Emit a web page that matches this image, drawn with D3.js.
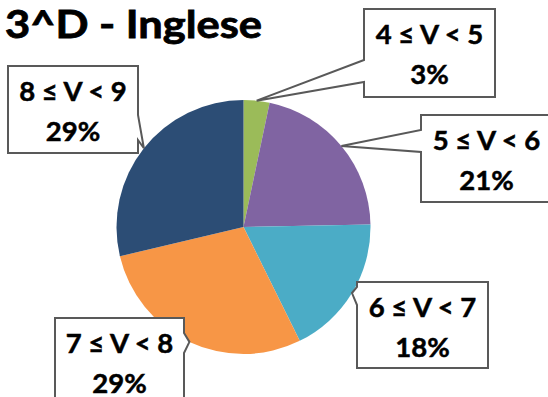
<!DOCTYPE html>
<html>
<head>
<meta charset="utf-8">
<script src="https://cdn.jsdelivr.net/npm/d3@7"></script>
<style>
  html, body { margin: 0; padding: 0; background: #fff; }
  svg { display: block; }
</style>
</head>
<body>
<svg id="chart" width="548" height="397"></svg>
<script>
// ---- data ----
const title = "3^D - Inglese";
const categories = ["4 ≤ V < 5", "5 ≤ V < 6", "6 ≤ V < 7", "7 ≤ V < 8", "8 ≤ V < 9"];
const values = [3.3, 21.4, 18.0, 28.6, 28.7];
const percentLabels = ["3%", "21%", "18%", "29%", "29%"];
const colors = ["#9BBB59", "#8064A2", "#4BACC6", "#F79646", "#2C4D75"];

// ---- layout (callout boxes: x, y, w, h, side of pointer, attach offsets) ----
const boxes = [
  { x: 364, y: 9,   w: 131, h: 88, side: "left",  a1: 51, a2: 73 },
  { x: 421, y: 115, w: 131, h: 87, side: "left",  a1: 15, a2: 37 },
  { x: 357, y: 282, w: 131, h: 86, side: "left",  a1: 5,  a2: 23 },
  { x: 55,  y: 318, w: 129, h: 88, side: "right", a1: 15, a2: 35 },
  { x: 8,   y: 66,  w: 130, h: 87, side: "right", a1: 49, a2: 74 }
];

const svg = d3.select("#chart");
const cx = 243.5, cy = 227, r = 127;

const pie = d3.pie().sort(null).value(d => d)(values);
const arc = d3.arc().innerRadius(0).outerRadius(r);

const g = svg.append("g").attr("transform", `translate(${cx},${cy})`);
g.selectAll("path.slice").data(pie).enter().append("path")
  .attr("class", "slice")
  .attr("d", arc)
  .attr("fill", (d, i) => colors[i]);

// title
svg.append("text")
  .attr("x", 5).attr("y", 38)
  .attr("font-family", "Lato, 'Open Sans', sans-serif")
  .attr("font-weight", "bold")
  .attr("font-size", 38)
  .attr("textLength", 257)
  .attr("lengthAdjust", "spacingAndGlyphs")
  .attr("fill", "#000")
  .attr("stroke", "#000")
  .attr("stroke-width", 0.8)
  .text(title);

// callouts
pie.forEach((d, i) => {
  const b = boxes[i];
  const mid = (d.startAngle + d.endAngle) / 2;
  const tx = cx + r * Math.sin(mid);
  const ty = cy - r * Math.cos(mid);
  let pts;
  if (b.side === "left") {
    pts = [
      [b.x, b.y], [b.x + b.w, b.y], [b.x + b.w, b.y + b.h], [b.x, b.y + b.h],
      [b.x, b.y + b.a2], [tx, ty], [b.x, b.y + b.a1]
    ];
  } else {
    pts = [
      [b.x, b.y], [b.x + b.w, b.y], [b.x + b.w, b.y + b.a1], [tx, ty],
      [b.x + b.w, b.y + b.a2], [b.x + b.w, b.y + b.h], [b.x, b.y + b.h]
    ];
  }
  svg.append("path")
    .attr("d", "M" + pts.map(p => p.join(",")).join("L") + "Z")
    .attr("fill", "#fff")
    .attr("stroke", "#595959")
    .attr("stroke-width", 2)
    .attr("stroke-linejoin", "miter");

  const t = svg.append("text")
    .attr("text-anchor", "middle")
    .attr("font-family", "Lato, 'Open Sans', sans-serif")
    .attr("font-weight", "bold")
    .attr("font-size", 27.5)
    .attr("fill", "#000")
    .attr("stroke", "#000")
    .attr("stroke-width", 0.5);
  t.append("tspan").attr("x", b.x + b.w / 2).attr("y", b.y + 35).text(categories[i]);
  t.append("tspan").attr("x", b.x + b.w / 2).attr("y", b.y + 75).text(percentLabels[i]);
});
</script>
</body>
</html>
